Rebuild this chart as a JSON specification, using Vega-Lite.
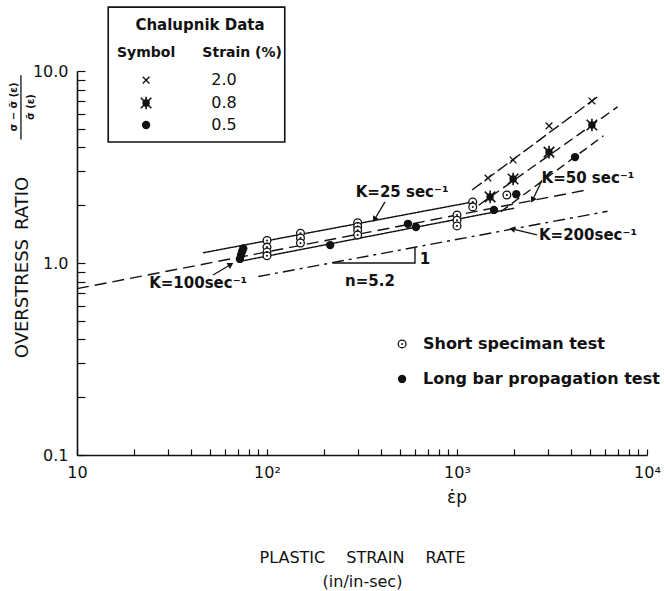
{
  "$schema": "https://vega.github.io/schema/vega-lite/v6.json",
  "width": 570,
  "height": 384,
  "autosize": {"type": "none"},
  "padding": {"left": 77, "top": 71, "right": 17, "bottom": 136},
  "background": "white",
  "config": {"view": {"stroke": null}, "font": "DejaVu Sans", "axis": {"grid": false}},
  "datasets": {
    "lines": [
      {"line": "K25", "i": 0, "x": 46, "y": 1.13}, {"line": "K25", "i": 1, "x": 1210, "y": 2.08},
      {"line": "K50", "i": 0, "x": 10, "y": 0.735}, {"line": "K50", "i": 1, "x": 4800, "y": 2.40},
      {"line": "K100", "i": 0, "x": 72, "y": 1.02}, {"line": "K100", "i": 1, "x": 2000, "y": 1.93},
      {"line": "K200", "i": 0, "x": 90, "y": 0.85}, {"line": "K200", "i": 1, "x": 6200, "y": 1.86},
      {"line": "S20", "i": 0, "x": 1200, "y": 2.4}, {"line": "S20", "i": 1, "x": 5600, "y": 7.44},
      {"line": "S08", "i": 0, "x": 1300, "y": 2.0}, {"line": "S08", "i": 1, "x": 7000, "y": 6.5},
      {"line": "S05", "i": 0, "x": 1700, "y": 1.85}, {"line": "S05", "i": 1, "x": 5900, "y": 4.6},
      {"line": "tri", "i": 0, "x": 222, "y": 1.0}, {"line": "tri", "i": 1, "x": 601, "y": 1.0}, {"line": "tri", "i": 2, "x": 601, "y": 1.2}
    ],
    "arrows": [
      {"id": "K25", "x": 370, "y": 1.70, "x2": 418, "y2": 2.08},
      {"id": "K50", "x": 2512, "y": 2.15, "x2": 2800, "y2": 2.70},
      {"id": "K200", "x": 1972, "y": 1.50, "x2": 2636, "y2": 1.40},
      {"id": "K100", "x": 63.8, "y": 0.976, "x2": 52, "y2": 0.866},
      {"id": "bar", "x": 5.07, "y": 9.5, "x2": 5.07, "y2": 4.4}
    ],
    "box": [{"x": 14.6, "x2": 124, "y": 4.27, "y2": 21.5}],
    "pts": [
      {"type": "short", "x": 100, "y": 1.31}, {"type": "short", "x": 100, "y": 1.21}, {"type": "short", "x": 100, "y": 1.14}, {"type": "short", "x": 100, "y": 1.09},
      {"type": "short", "x": 150, "y": 1.43}, {"type": "short", "x": 150, "y": 1.35}, {"type": "short", "x": 150, "y": 1.27},
      {"type": "short", "x": 300, "y": 1.62}, {"type": "short", "x": 300, "y": 1.55}, {"type": "short", "x": 300, "y": 1.48}, {"type": "short", "x": 300, "y": 1.40},
      {"type": "short", "x": 1000, "y": 1.78}, {"type": "short", "x": 1000, "y": 1.67}, {"type": "short", "x": 1000, "y": 1.56},
      {"type": "short", "x": 1210, "y": 2.08}, {"type": "short", "x": 1210, "y": 1.96},
      {"type": "short", "x": 1830, "y": 2.26},
      {"type": "short", "x": 514, "y": 0.379},
      {"type": "long", "x": 72, "y": 1.05}, {"type": "long", "x": 73, "y": 1.10}, {"type": "long", "x": 74, "y": 1.15}, {"type": "long", "x": 75, "y": 1.19},
      {"type": "long", "x": 215, "y": 1.24}, {"type": "long", "x": 552, "y": 1.60}, {"type": "long", "x": 608, "y": 1.54}, {"type": "long", "x": 1566, "y": 1.89},
      {"type": "long", "x": 514, "y": 0.249},
      {"type": "c05", "x": 2050, "y": 2.28}, {"type": "c05", "x": 4180, "y": 3.56}, {"type": "c05", "x": 23.1, "y": 5.23},
      {"type": "c08", "x": 1493, "y": 2.21}, {"type": "c08", "x": 1974, "y": 2.74}, {"type": "c08", "x": 3050, "y": 3.78}, {"type": "c08", "x": 5130, "y": 5.23}, {"type": "c08", "x": 23.1, "y": 6.81},
      {"type": "c20", "x": 1456, "y": 2.77}, {"type": "c20", "x": 1974, "y": 3.44}, {"type": "c20", "x": 3050, "y": 5.18}, {"type": "c20", "x": 5130, "y": 6.98}, {"type": "c20", "x": 23.1, "y": 8.97}
    ],
    "texts": [
      {"g": "ann", "text": "K=25 sec⁻¹", "x": 514, "y": 2.34},
      {"g": "ann", "text": "K=50 sec⁻¹", "x": 4890, "y": 2.77},
      {"g": "ann", "text": "K=200sec⁻¹", "x": 4890, "y": 1.40},
      {"g": "ann", "text": "K=100sec⁻¹", "x": 43.4, "y": 0.787},
      {"g": "ann", "text": "n=5.2", "x": 348, "y": 0.805},
      {"g": "ann", "text": "1", "x": 679, "y": 1.05},
      {"g": "eps", "text": "ε̇p", "x": 1000, "y": 0.0597},
      {"g": "boxtitle", "text": "Chalupnik Data", "x": 44.4, "y": 17.4},
      {"g": "boxhead", "text": "Symbol", "x": 23.1, "y": 12.4},
      {"g": "boxhead", "text": "Strain (%)", "x": 74, "y": 12.4},
      {"g": "boxval", "text": "2.0", "x": 59.4, "y": 8.97},
      {"g": "boxval", "text": "0.8", "x": 59.4, "y": 6.81},
      {"g": "boxval", "text": "0.5", "x": 59.4, "y": 5.23},
      {"g": "leg", "text": "Short speciman test", "x": 662, "y": 0.379},
      {"g": "leg", "text": "Long bar propagation test", "x": 662, "y": 0.249},
      {"g": "frac", "text": "σ − σ̄ (ε)", "x": 4.66, "y": 6.49},
      {"g": "frac", "text": "σ̄ (ε)", "x": 5.73, "y": 6.49}
    ]
  },
  "encoding": {
    "x": {
      "field": "x", "type": "quantitative",
      "scale": {"type": "log", "domain": [10, 10000], "nice": false},
      "axis": {
        "values": [10, 20, 30, 40, 50, 60, 70, 80, 90, 100, 200, 300, 400, 500, 600, 700, 800, 900, 1000, 2000, 3000, 4000, 5000, 6000, 7000, 8000, 9000, 10000],
        "labelExpr": "datum.value == 10 ? '10' : datum.value == 100 ? '10²' : datum.value == 1000 ? '10³' : datum.value == 10000 ? '10⁴' : ''",
        "tickSize": -6, "tickColor": "#111", "tickWidth": 1.2,
        "domainColor": "#111", "domainWidth": 1.6,
        "labelPadding": 15, "labelFontSize": 16, "labelColor": "#111", "labelFlush": false, "labelOverlap": false,
        "title": ["PLASTIC\u2003 STRAIN\u2003 RATE", "(in/in-sec)"],
        "titleFontSize": 16, "titleFontWeight": "normal", "titleColor": "#111", "titleY": 94, "titleLineHeight": 24
      }
    },
    "y": {
      "field": "y", "type": "quantitative",
      "scale": {"type": "log", "domain": [0.1, 10], "nice": false},
      "axis": {
        "values": [0.1, 0.2, 0.3, 0.4, 0.5, 0.6, 0.7, 0.8, 0.9, 1, 2, 3, 4, 5, 6, 7, 8, 9, 10],
        "labelExpr": "datum.value == 10 ? '10.0' : datum.value == 1 ? '1.0' : datum.value == 0.1 ? '0.1' : ''",
        "tickSize": -8, "tickColor": "#111", "tickWidth": 1.2,
        "domainColor": "#111", "domainWidth": 1.6,
        "labelPadding": 17, "labelFontSize": 16, "labelColor": "#111", "labelFlush": false, "labelOverlap": false,
        "title": "OVERSTRESS\u2002RATIO",
        "titleFontSize": 18, "titleFontWeight": "normal", "titleColor": "#111",
        "titleX": -55, "titleY": 196, "titleAngle": 270, "titleAlign": "center", "titleBaseline": "middle"
      }
    }
  },
  "layer": [
    {
      "data": {"name": "lines"},
      "mark": {"type": "line", "color": "#111", "strokeWidth": 1.4},
      "encoding": {
        "detail": {"field": "line"},
        "order": {"field": "i", "type": "quantitative"},
        "strokeDash": {
          "field": "line", "type": "nominal", "legend": null,
          "scale": {
            "domain": ["K25", "K50", "K100", "K200", "S20", "S08", "S05", "tri"],
            "range": [[1, 0], [12, 6], [1, 0], [12, 5, 3, 5], [12, 4], [10, 5], [9, 5], [1, 0]]
          }
        }
      }
    },
    {
      "data": {"name": "arrows"},
      "mark": {"type": "rule", "color": "#111", "strokeWidth": 1.3},
      "encoding": {"x2": {"field": "x2"}, "y2": {"field": "y2"}}
    },
    {
      "data": {"name": "arrows"},
      "transform": [{"filter": "datum.id == 'K25'"}],
      "mark": {"type": "point", "shape": "triangle", "filled": true, "color": "#111", "size": 45, "angle": 212, "opacity": 1}
    },
    {
      "data": {"name": "arrows"},
      "transform": [{"filter": "datum.id == 'K50'"}],
      "mark": {"type": "point", "shape": "triangle", "filled": true, "color": "#111", "size": 45, "angle": 207, "opacity": 1}
    },
    {
      "data": {"name": "arrows"},
      "transform": [{"filter": "datum.id == 'K200'"}],
      "mark": {"type": "point", "shape": "triangle", "filled": true, "color": "#111", "size": 45, "angle": 282, "opacity": 1}
    },
    {
      "data": {"name": "arrows"},
      "transform": [{"filter": "datum.id == 'K100'"}],
      "mark": {"type": "point", "shape": "triangle", "filled": true, "color": "#111", "size": 45, "angle": 60, "opacity": 1}
    },
    {
      "data": {"name": "box"},
      "mark": {"type": "rect", "fill": "transparent", "stroke": "#111", "strokeWidth": 1.6},
      "encoding": {"x2": {"field": "x2"}, "y2": {"field": "y2"}}
    },
    {
      "data": {"name": "pts"},
      "transform": [{"filter": "datum.type == 'short'"}],
      "mark": {"type": "point", "shape": "circle", "filled": false, "fill": "white", "stroke": "#111", "strokeWidth": 1.3, "size": 60, "opacity": 1}
    },
    {
      "data": {"name": "pts"},
      "transform": [{"filter": "datum.type == 'short'"}],
      "mark": {"type": "point", "shape": "circle", "filled": true, "color": "#111", "size": 4, "opacity": 1}
    },
    {
      "data": {"name": "pts"},
      "transform": [{"filter": "datum.type == 'long' || datum.type == 'c05'"}],
      "mark": {"type": "point", "shape": "circle", "filled": true, "color": "#111", "size": 70, "opacity": 1}
    },
    {
      "data": {"name": "pts"},
      "transform": [{"filter": "datum.type == 'c08'"}],
      "mark": {"type": "point", "shape": "circle", "filled": true, "color": "#111", "size": 55, "opacity": 1}
    },
    {
      "data": {"name": "pts"},
      "transform": [{"filter": "datum.type == 'c08'"}],
      "mark": {"type": "point", "shape": "M-1,-1L1,1M-1,1L1,-1M0,-1.2L0,1.2", "filled": false, "stroke": "#111", "strokeWidth": 1.6, "size": 110, "opacity": 1}
    },
    {
      "data": {"name": "pts"},
      "transform": [{"filter": "datum.type == 'c20'"}],
      "mark": {"type": "point", "shape": "M-1,-1L1,1M-1,1L1,-1", "filled": false, "stroke": "#111", "strokeWidth": 1.3, "size": 45, "opacity": 1}
    },
    {
      "data": {"name": "texts"},
      "transform": [{"filter": "datum.g == 'ann'"}],
      "mark": {"type": "text", "fontSize": 15, "fontWeight": "bold", "color": "#111", "align": "center", "baseline": "middle"},
      "encoding": {"text": {"field": "text"}}
    },
    {
      "data": {"name": "texts"},
      "transform": [{"filter": "datum.g == 'eps'"}],
      "mark": {"type": "text", "fontSize": 17, "color": "#111", "align": "center", "baseline": "middle"},
      "encoding": {"text": {"field": "text"}}
    },
    {
      "data": {"name": "texts"},
      "transform": [{"filter": "datum.g == 'boxtitle'"}],
      "mark": {"type": "text", "fontSize": 15, "fontWeight": "bold", "color": "#111", "align": "center", "baseline": "middle"},
      "encoding": {"text": {"field": "text"}}
    },
    {
      "data": {"name": "texts"},
      "transform": [{"filter": "datum.g == 'boxhead'"}],
      "mark": {"type": "text", "fontSize": 14, "fontWeight": "bold", "color": "#111", "align": "center", "baseline": "middle"},
      "encoding": {"text": {"field": "text"}}
    },
    {
      "data": {"name": "texts"},
      "transform": [{"filter": "datum.g == 'boxval'"}],
      "mark": {"type": "text", "fontSize": 16, "color": "#111", "align": "center", "baseline": "middle"},
      "encoding": {"text": {"field": "text"}}
    },
    {
      "data": {"name": "texts"},
      "transform": [{"filter": "datum.g == 'leg'"}],
      "mark": {"type": "text", "fontSize": 16, "fontWeight": "bold", "color": "#111", "align": "left", "baseline": "middle"},
      "encoding": {"text": {"field": "text"}}
    },
    {
      "data": {"name": "texts"},
      "transform": [{"filter": "datum.g == 'frac'"}],
      "mark": {"type": "text", "fontSize": 10, "fontWeight": "bold", "color": "#111", "align": "center", "baseline": "middle", "angle": 270},
      "encoding": {"text": {"field": "text"}}
    }
  ]
}
